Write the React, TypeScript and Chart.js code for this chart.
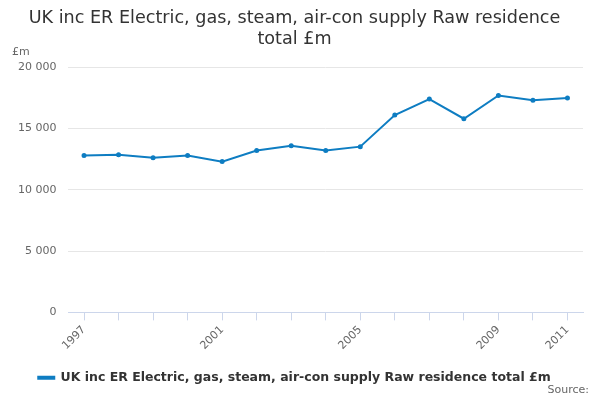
import React, { useEffect, useRef } from "react";
import { Chart, registerables } from "chart.js";
Chart.register(...registerables);

const years = [1997, 1998, 1999, 2000, 2001, 2002, 2003, 2004, 2005, 2006, 2007, 2008, 2009, 2010, 2011];
const values = [12800, 12870, 12620, 12790, 12300, 13200, 13600, 13200, 13520, 16100, 17400, 15800, 17700, 17300, 17500];
const shownYears = [1997, 2001, 2005, 2009, 2011];
const seriesName = "UK inc ER Electric, gas, steam, air-con supply Raw residence total £m";
const titleLines = ["UK inc ER Electric, gas, steam, air-con supply Raw residence", "total £m"];

const FONT = "'DejaVu Sans', sans-serif";

export default function App() {
  const ref = useRef<HTMLCanvasElement>(null);
  useEffect(() => {
    document.body.style.margin = "0";
    const extras = {
      id: "extras",
      afterDraw(chart: any) {
        const c = chart.ctx;
        c.save();
        c.fillStyle = "#666";
        c.font = `11px ${FONT}`;
        c.textBaseline = "middle";
        c.textAlign = "left";
        c.fillText("£m", 12, 52);
        c.textAlign = "right";
        c.fillText("Source:", 589, 390);
        c.restore();
      },
    };
    const chart = new Chart(ref.current!, {
      type: "line",
      data: {
        datasets: [
          {
            label: seriesName,
            data: years.map((y, i) => ({ x: y, y: values[i] })),
            borderColor: "#0e7dc2",
            backgroundColor: "#0e7dc2",
            borderWidth: 2,
            pointRadius: 1.5,
            pointHoverRadius: 1.5,
            tension: 0,
          },
        ],
      },
      options: {
        responsive: false,
        animation: false,
        layout: { padding: { left: 6, right: 17, top: 0, bottom: 6 } },
        plugins: {
          title: {
            display: true,
            text: titleLines,
            color: "#333",
            font: { family: FONT, size: 17.6, weight: "normal" },
            padding: { top: 8, bottom: 17 },
          },
          legend: {
            position: "bottom",
            labels: {
              color: "#333",
              font: { family: FONT, size: 12.5, weight: "bold" },
              boxWidth: 16,
              boxHeight: 2,
              padding: 16,
            },
          },
          tooltip: { enabled: false },
        },
        scales: {
          x: {
            type: "linear",
            min: 1996.55,
            max: 2011.45,
            afterBuildTicks: (axis: any) => {
              axis.ticks = years.map((v) => ({ value: v }));
            },
            ticks: {
              autoSkip: false,
              maxRotation: 45,
              minRotation: 45,
              color: "#666",
              font: { family: FONT, size: 11 },
              callback: (v: any) => (shownYears.includes(Number(v)) ? String(v) : ""),
            },
            grid: { drawOnChartArea: false, tickLength: 8, color: "#ccd6eb" },
            border: { color: "#ccd6eb" },
          },
          y: {
            min: 0,
            max: 20000,
            ticks: {
              stepSize: 5000,
              color: "#666",
              font: { family: FONT, size: 11 },
              padding: 12,
              callback: (v: any) => (Number(v) === 0 ? "0" : String(v).replace(/\B(?=(\d{3})+(?!\d))/g, " ")),
            },
            grid: { color: "#e6e6e6", drawTicks: false },
            border: { display: false },
          },
        },
      },
      plugins: [extras],
    });
    return () => chart.destroy();
  }, []);
  return <canvas ref={ref} width={600} height={400} style={{ display: "block" }} />;
}
